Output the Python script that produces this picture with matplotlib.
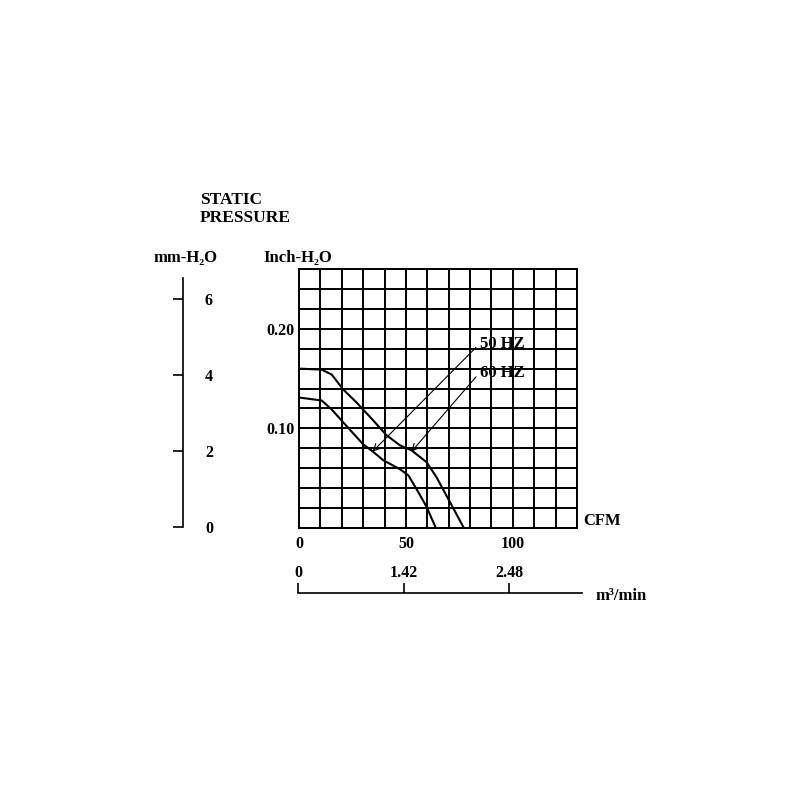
import matplotlib
matplotlib.use("Agg")
import matplotlib.pyplot as plt
import numpy as np

plt.rcParams['font.family'] = ['Liberation Serif', 'DejaVu Serif']
plt.rcParams['font.weight'] = 'bold'

# curves: CFM vs inch-H2O
cfm_60 = [0, 10.6, 15.3, 20.7, 26.9, 34.7, 41.0, 47.2, 52.6, 59.7, 64.3, 70.6, 77.1]
inch_60 = [0.160, 0.159, 0.154, 0.139, 0.126, 0.108, 0.093, 0.083, 0.078, 0.066, 0.051, 0.026, 0.0]
cfm_50 = [0, 10.6, 15.3, 20.7, 30.0, 34.4, 39.4, 47.2, 51.1, 55.8, 59.7, 64.0]
inch_50 = [0.131, 0.128, 0.119, 0.106, 0.084, 0.077, 0.068, 0.059, 0.053, 0.036, 0.021, 0.0]

cfm_ticks = [0, 50, 100]
inch_ticks = [0.10, 0.20]
inch_labels = ['0.10', '0.20']
mm_ticks = [0, 2, 4, 6]
m3_labels = ['0', '1.42', '2.48']

fig = plt.figure(figsize=(8, 8), dpi=100)
fs = 12
tfs = 11.5

# main grid
ax = fig.add_axes([299/800, 1-528/800, 278/800, 259/800])
ax.plot(cfm_60, inch_60, color='black', lw=1.5)
ax.plot(cfm_50, inch_50, color='black', lw=1.5)
ax.set_xlim(0, 130)
ax.set_ylim(0, 0.26)
ax.set_xticks(cfm_ticks)
ax.set_yticks(inch_ticks)
ax.set_yticklabels(inch_labels)
ax.set_xticks(np.arange(0, 131, 10), minor=True)
ax.set_yticks(np.arange(0, 0.261, 0.02), minor=True)
ax.grid(which='both', color='black', lw=1.4)
ax.tick_params(which='both', length=0, labelsize=tfs)
ax.tick_params(axis='x', pad=6)
ax.tick_params(axis='y', pad=3)
for s in ax.spines.values():
    s.set_linewidth(1.4)

ax.annotate('50 HZ', xy=(34.4, 0.0767), xytext=(84.5, 0.185), fontsize=fs,
            va='center', ha='left',
            arrowprops=dict(arrowstyle='->', lw=0.8, color='black',
                            relpos=(0, 0.5), shrinkA=1, shrinkB=0))
ax.annotate('60 HZ', xy=(52.6, 0.0767), xytext=(84.5, 0.156), fontsize=fs,
            va='center', ha='left',
            arrowprops=dict(arrowstyle='->', lw=0.8, color='black',
                            relpos=(0, 0.5), shrinkA=1, shrinkB=0))

# mm-H2O scale
axm = fig.add_axes([183/800, 1-527/800, 8/800, 249/800])
axm.set_ylim(0, 6.55)
axm.set_yticks(mm_ticks)
axm.set_xticks([])
for k in ['top', 'right', 'bottom']:
    axm.spines[k].set_visible(False)
axm.spines['left'].set_linewidth(1.2)
axm.patch.set_alpha(0)
axm.tick_params(axis='y', left=True, right=False, labelleft=False, labelright=True,
                direction='out', length=7, width=1.2, pad=3, labelsize=tfs)

# m3/min scale
axb = fig.add_axes([298/800, 1-593/800, 284/800, 8/800])
axb.set_xlim(0, 134.3)
axb.set_xticks(cfm_ticks)
axb.set_xticklabels(m3_labels)
axb.set_yticks([])
for k in ['top', 'right', 'left']:
    axb.spines[k].set_visible(False)
axb.spines['bottom'].set_linewidth(1.2)
axb.patch.set_alpha(0)
axb.tick_params(axis='x', bottom=True, top=False, labelbottom=False, labeltop=True,
                direction='in', length=7, width=1.2, pad=3, labelsize=tfs)

fig.text(200/800, 1-209/800, 'STATIC\nPRESSURE', fontsize=12.5, ha='left', va='center',
         linespacing=1.1)
fig.text(186/800, 1-258/800, 'mm-H₂O', fontsize=fs, ha='center', va='center')
fig.text(298/800, 1-258/800, 'Inch-H₂O', fontsize=fs, ha='center', va='center')
fig.text(583/800, 1-521/800, 'CFM', fontsize=fs, ha='left', va='center')
fig.text(595/800, 1-596/800, 'm³/min', fontsize=fs, ha='left', va='center')

fig.savefig('out.png', dpi=100)
